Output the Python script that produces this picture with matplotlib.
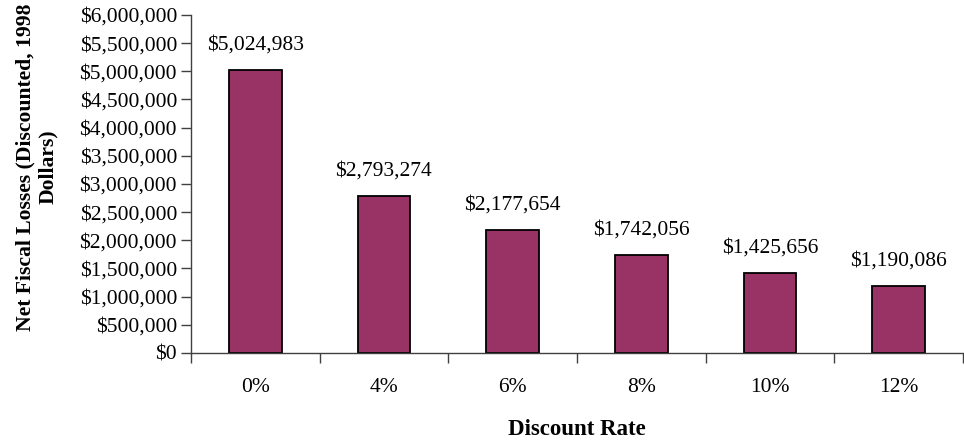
import matplotlib.pyplot as plt
from matplotlib.ticker import FuncFormatter, MultipleLocator

# Discount rate vs discounted net fiscal losses
rates = ["0%", "4%", "6%", "8%", "10%", "12%"]
losses = [5024983, 2793274, 2177654, 1742056, 1425656, 1190086]

plt.rcParams["font.family"] = ["Liberation Serif", "DejaVu Serif"]

fig = plt.figure(figsize=(9.64, 4.42), dpi=100)
ax = fig.add_axes([0.198, 0.2014, 0.801, 0.7647])

x = list(range(len(rates)))
bars = ax.bar(x, losses, width=0.41, color="#993366", edgecolor="black", linewidth=1.3)

for xi, v in zip(x, losses):
    ax.annotate("${:,}".format(v), (xi, v), xytext=(0, 11), textcoords="offset points",
                ha="center", va="bottom", fontsize=15.5)

ax.set_xlim(-0.5, len(rates) - 0.5)
ax.set_ylim(0, 6000000)
ax.yaxis.set_major_locator(MultipleLocator(500000))
ax.yaxis.set_major_formatter(FuncFormatter(lambda v, p: "${:,.0f}".format(v)))

ax.set_xticks(x)
ax.set_xticklabels(rates)
ax.set_xticks([i - 0.5 for i in range(len(rates) + 1)], minor=True)
ax.tick_params(axis="x", which="major", length=0, pad=18, labelsize=15.5)
ax.tick_params(axis="x", which="minor", length=7, width=1, color="#404040")
ax.tick_params(axis="y", length=7, width=1, color="#404040", labelsize=15.5, pad=3)

for s in ["top", "right"]:
    ax.spines[s].set_visible(False)
for s in ["left", "bottom"]:
    ax.spines[s].set_color("#404040")
    ax.spines[s].set_linewidth(1)

ax.set_xlabel("Discount Rate", fontsize=16.5, fontweight="bold", labelpad=16)
ax.set_ylabel("Net Fiscal Losses (Discounted, 1998\nDollars)", fontsize=15.6,
              fontweight="bold", linespacing=1.15)
ax.yaxis.set_label_coords(-0.172, 0.55)

fig.savefig("out.png", dpi=100)
